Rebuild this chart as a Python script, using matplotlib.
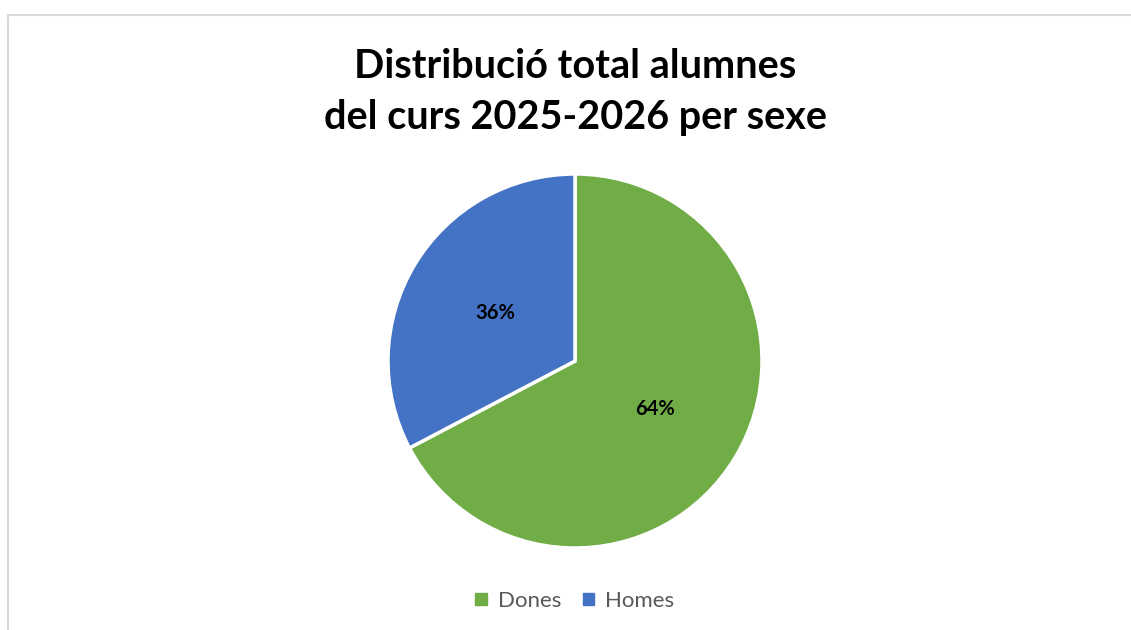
import matplotlib
matplotlib.use("Agg")
import matplotlib.pyplot as plt
from matplotlib.lines import Line2D

categories = ["Dones", "Homes"]
shares = [67.3, 32.7]  # wedge sizes as drawn
pct_labels = ["64%", "36%"]
colors = ["#70AD47", "#4472C4"]
title = "Distribució total alumnes\ndel curs 2025-2026 per sexe"

W, H = 1131, 630
fig = plt.figure(figsize=(W / 100, H / 100), dpi=100)

# light grey frame (left and top edges visible)
fig.add_artist(Line2D([7.5 / W, 7.5 / W], [0, 1 - 15 / H], color="#D9D9D9", lw=1.5,
                      transform=fig.transFigure))
fig.add_artist(Line2D([7.5 / W, 1], [1 - 15 / H, 1 - 15 / H], color="#D9D9D9", lw=1.5,
                      transform=fig.transFigure))

cx, cy, r = 575, 361, 187
ax = fig.add_axes([(cx - r) / W, (H - cy - r) / H, 2 * r / W, 2 * r / H])
wedges, texts = ax.pie(shares, colors=colors, startangle=90, counterclock=False,
                       labels=pct_labels, labeldistance=0.5,
                       wedgeprops=dict(edgecolor="white", linewidth=2.5),
                       textprops=dict(fontsize=14.5, fontweight="bold", family="Lato"))
for t in texts:
    t.set_ha("center")
    t.set_va("center")
ax.set_xlim(-1, 1)
ax.set_ylim(-1, 1)

fig.text(cx / W, 1 - 92 / H, title, ha="center", va="center", fontsize=28.5,
         fontweight="bold", family="Lato", linespacing=1.5, color="black")

handles = [plt.Rectangle((0, 0), 1, 1, color=c) for c in colors]
fig.legend(handles, categories, loc="center", bbox_to_anchor=(cx / W, 1 - 601 / H),
           ncol=2, frameon=False, handlelength=0.5, handleheight=0.5,
           handletextpad=0.5, columnspacing=1.0,
           prop=dict(family="Lato", size=16), labelcolor="#595959")

fig.savefig("out.png", dpi=100)
